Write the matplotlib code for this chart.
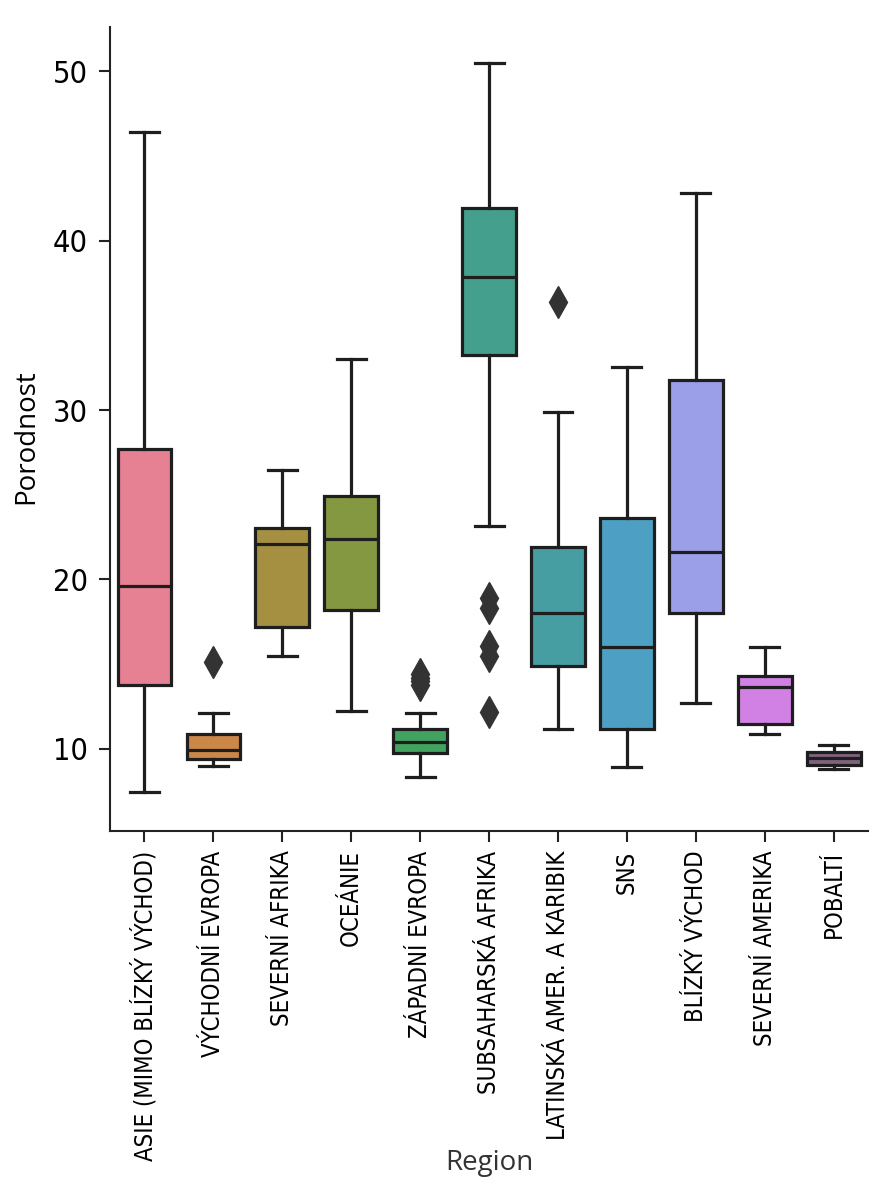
#!/usr/bin/env python3
"""box plot of birth rate (Porodnost) per region"""
import matplotlib
matplotlib.use("Agg")
import matplotlib.pyplot as plt
from matplotlib import font_manager
from matplotlib.font_manager import FontProperties
import seaborn as sns

regions = ["ASIE (MIMO BLÍZKÝ VÝCHOD)", "VÝCHODNÍ EVROPA", "SEVERNÍ AFRIKA",
           "OCEÁNIE", "ZÁPADNÍ EVROPA", "SUBSAHARSKÁ AFRIKA",
           "LATINSKÁ AMER. A KARIBIK", "SNS", "BLÍZKÝ VÝCHOD",
           "SEVERNÍ AMERIKA", "POBALTÍ"]

# summary statistics
whis_lo = [7.45, 8.98, 15.5, 12.26, 8.35, 23.16, 11.16, 8.96, 12.7, 10.86, 8.82]
q1 = [13.8, 9.43, 17.2, 18.2, 9.75, 33.26, 14.9, 11.16, 18.04, 11.47, 9.03]
median = [19.6, 9.94, 22.1, 22.4, 10.43, 37.85, 18.04, 16.0, 21.6, 13.68, 9.45]
q3 = [27.7, 10.9, 23.04, 24.9, 11.16, 41.9, 21.94, 23.65, 31.77, 14.3, 9.83]
whis_hi = [46.4, 12.1, 26.44, 33.0, 12.1, 50.45, 29.86, 32.55, 42.8, 16.0, 10.24]
outliers = [[], [15.15], [], [], [13.8, 14.0, 14.2, 14.4],
            [18.9, 18.3, 16.1, 15.5, 12.2], [36.37], [], [], [], []]

yticks = [10, 20, 30, 40, 50]

# room (px) the longest rotated region name takes in the chart
longest_px = 310

# look for a narrow sans face for the tick labels
narrow = None
for f in font_manager.fontManager.ttflist:
    n = f.name.lower()
    if ("narrow" in n or "condensed" in n or "condensed" in str(f.stretch)) \
            and "sans" in n and f.style == "normal" and f.weight in (400, "normal", "regular"):
        narrow = f.fname
        break
if narrow:
    tick_fp = FontProperties(fname=narrow)
else:
    tick_fp = FontProperties(family="Liberation Sans")
label_font = "Open Sans"

palette = [sns.desaturate(c, 0.75) for c in sns.color_palette("husl", len(regions))]
palette[-1] = "#80627e"
line_col = "#1e1e1e"

fig = plt.figure(figsize=(8.93, 12), dpi=100)
ax = fig.add_axes([0.1232, 0.3075, 0.849, 0.67])

stats = []
for i, name in enumerate(regions):
    stats.append(dict(label=name, whislo=whis_lo[i], q1=q1[i], med=median[i],
                      q3=q3[i], whishi=whis_hi[i], fliers=outliers[i]))

lw = 2.3
bp = ax.bxp(stats, positions=range(len(regions)), widths=0.78, capwidths=0.42,
            patch_artist=True, showfliers=True,
            boxprops=dict(edgecolor=line_col, linewidth=lw),
            whiskerprops=dict(color=line_col, linewidth=lw),
            capprops=dict(color=line_col, linewidth=lw),
            medianprops=dict(color=line_col, linewidth=lw),
            flierprops=dict(marker="d", markersize=16, markerfacecolor="#333333",
                            markeredgecolor="#333333", linestyle="none"))
for patch, col in zip(bp["boxes"], palette):
    patch.set_facecolor(col)

ax.set_xlim(-0.5, len(regions) - 0.5)
ax.set_ylim(5.16, 52.6)
ax.set_yticks(yticks)
ylabels = ax.set_yticklabels([str(v) for v in yticks], fontproperties=tick_fp)
ax.set_xticks(range(len(regions)))
xlabels = ax.set_xticklabels(regions, rotation=90, fontproperties=tick_fp)

# size the region names so that the longest fits the same room as in the chart
renderer = fig.canvas.get_renderer()
for t in ylabels:
    t.set_fontsize(22)
for t in xlabels:
    t.set_fontsize(20)
longest = max(t.get_window_extent(renderer).height for t in xlabels)
xsize = min(24, 20 * longest_px / longest)
for t in xlabels:
    t.set_fontsize(xsize)

ax.spines["top"].set_visible(False)
ax.spines["right"].set_visible(False)
for s in ("left", "bottom"):
    ax.spines[s].set_linewidth(1.5)
    ax.spines[s].set_color("#222222")
ax.tick_params(axis="both", length=8, width=1.5, color="#222222")
ax.tick_params(axis="y", pad=8)
ax.tick_params(axis="x", pad=6)

ax.set_ylabel("Porodnost", fontfamily=label_font, fontsize=20)
ax.set_xlabel("Region", fontfamily=label_font, fontsize=20, color="#333333")
ax.yaxis.set_label_coords(-0.092, 0.49)
ax.xaxis.set_label_coords(0.5, -0.395)

fig.savefig("out.png", dpi=100)
